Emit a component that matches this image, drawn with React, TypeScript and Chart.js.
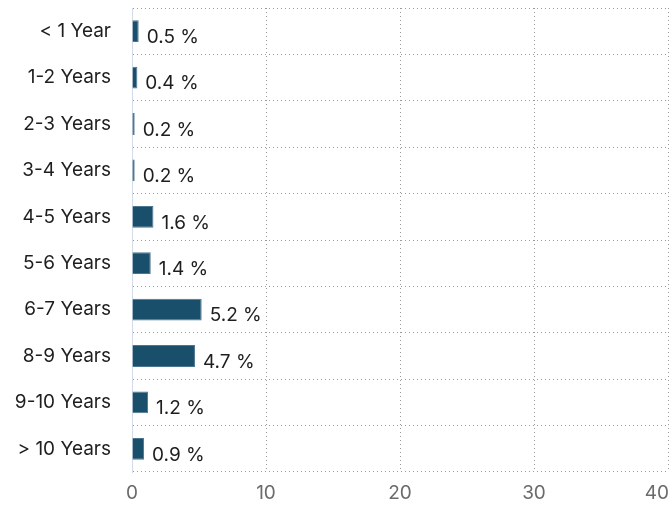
import React, { useEffect, useRef } from "react";
import { Chart, registerables } from "chart.js";

Chart.register(...registerables);

const categories = ["< 1 Year", "1-2 Years", "2-3 Years", "3-4 Years", "4-5 Years", "5-6 Years", "6-7 Years", "8-9 Years", "9-10 Years", "> 10 Years"];
const values = [0.5, 0.4, 0.2, 0.2, 1.6, 1.4, 5.2, 4.7, 1.2, 0.9];
const xMin = 0;
const xMax = 40;
const xStep = 10;
const FONT = "Inter, 'Open Sans', sans-serif";
const FS = 19;
const XPAD = 10;

const valueLabels = {
  id: "valueLabels",
  afterDatasetsDraw(chart: any) {
    const ctx = chart.ctx;
    const meta = chart.getDatasetMeta(0);
    ctx.save();
    ctx.font = `${FS}px ${FONT}`;
    ctx.fillStyle = "#1e1e1e";
    ctx.textAlign = "left";
    ctx.textBaseline = "middle";
    meta.data.forEach((bar: any, i: number) => {
      ctx.fillText(`${values[i]} %`, bar.x + 8, bar.y + 6);
    });
    ctx.restore();
  },
};

const lastTickLabel = {
  id: "lastTickLabel",
  afterDraw(chart: any) {
    const scale = chart.scales.x;
    const ctx = chart.ctx;
    ctx.save();
    ctx.font = `${FS}px ${FONT}`;
    ctx.fillStyle = "#6b6b6b";
    ctx.textAlign = "right";
    ctx.textBaseline = "middle";
    const x = scale.getPixelForValue(xMax);
    ctx.fillText(String(xMax), Math.min(x + 1, chart.width), scale.top + XPAD + (FS * 1.2) / 2);
    ctx.restore();
  },
};

export default function App() {
  const ref = useRef<HTMLCanvasElement>(null);
  useEffect(() => {
    if (!ref.current) return;
    const chart = new Chart(ref.current, {
      type: "bar",
      data: {
        labels: categories,
        datasets: [
          {
            data: values,
            backgroundColor: "#1a4f6c",
            borderColor: "#4d7690",
            borderWidth: 1,
            barPercentage: 0.47,
            categoryPercentage: 1,
          },
        ],
      },
      options: {
        indexAxis: "y",
        animation: false,
        responsive: false,
        maintainAspectRatio: false,
        layout: { padding: { top: 0, left: 0, bottom: 0, right: 4 } },
        plugins: { legend: { display: false }, tooltip: { enabled: false } },
        scales: {
          x: {
            min: xMin,
            max: xMax,
            ticks: {
              stepSize: xStep,
              padding: XPAD,
              color: "#6b6b6b",
              font: { family: FONT, size: FS },
              callback: (v: any) => (v === xMax ? "" : String(v)),
              maxRotation: 0,
            },
            grid: { color: "#9a9a9a", drawTicks: false },
            border: { display: false, dash: [1, 3] },
            afterFit: (s: any) => {
              s.height = 33;
              s.paddingLeft = 0;
              s.paddingRight = 0;
            },
          },
          y: {
            ticks: {
              padding: 21,
              color: "#1e1e1e",
              font: { family: FONT, size: FS },
            },
            grid: { color: "#9a9a9a", drawTicks: false },
            border: { display: true, color: "#d3dbe8", dash: [1, 3] },
            afterFit: (s: any) => {
              s.width = 124;
              s.paddingTop = 0;
              s.paddingBottom = 0;
            },
          },
        },
      },
      plugins: [valueLabels, lastTickLabel],
    });
    return () => chart.destroy();
  }, []);
  return (
    <div style={{ position: "absolute", left: 8, top: 8, width: 664, height: 497 }}>
      <canvas ref={ref} width={664} height={497} style={{ display: "block" }} />
    </div>
  );
}
